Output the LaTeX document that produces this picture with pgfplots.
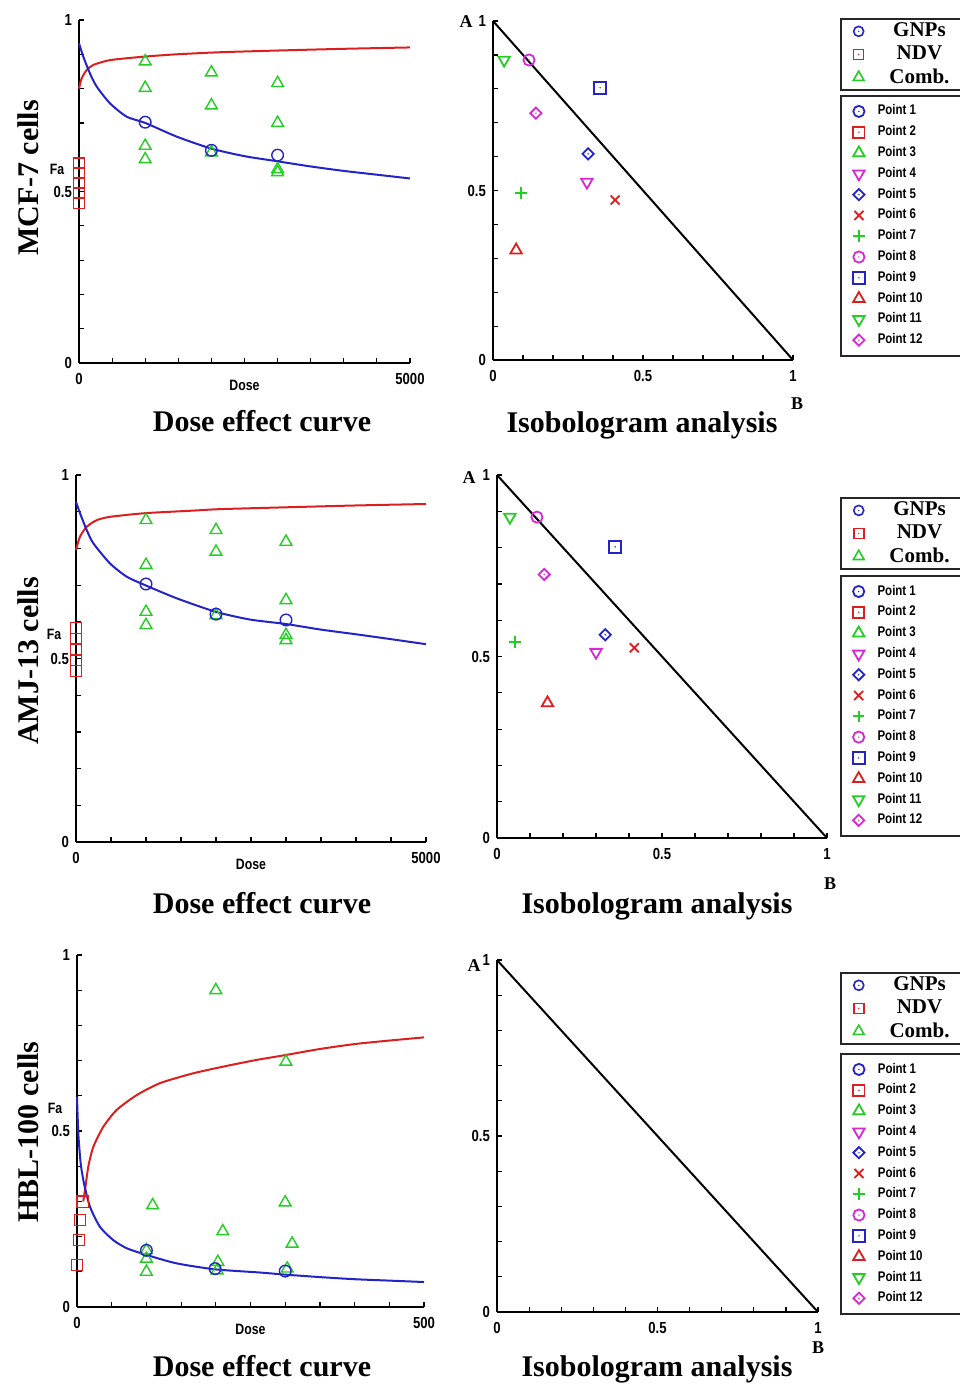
\documentclass[border=0pt]{standalone}
\usepackage{pgfplots}
\pgfplotsset{compat=1.18}
\usepackage{fontspec}
\setmainfont{Liberation Serif}
\newfontfamily\narrow[FakeStretch=0.82]{Liberation Sans}

\definecolor{bluec}{RGB}{35,35,200}
\definecolor{redc}{RGB}{220,30,30}
\definecolor{greenc}{RGB}{35,205,35}
\definecolor{magc}{RGB}{215,40,215}

% marks with a centre dot
\pgfdeclareplotmark{odot}{%
  \pgfpathcircle{\pgfpointorigin}{\pgfplotmarksize}\pgfusepathqstroke
  \pgfpathcircle{\pgfpointorigin}{0.4pt}\pgfusepathqfill}
\pgfdeclareplotmark{sdot}{%
  \pgfpathrectangle{\pgfpoint{-\pgfplotmarksize}{-\pgfplotmarksize}}{\pgfpoint{2\pgfplotmarksize}{2\pgfplotmarksize}}\pgfusepathqstroke
  \pgfpathcircle{\pgfpointorigin}{0.4pt}\pgfusepathqfill}
\pgfdeclareplotmark{ddot}{%
  \pgfpathmoveto{\pgfpoint{0pt}{\pgfplotmarksize}}\pgfpathlineto{\pgfpoint{\pgfplotmarksize}{0pt}}%
  \pgfpathlineto{\pgfpoint{0pt}{-\pgfplotmarksize}}\pgfpathlineto{\pgfpoint{-\pgfplotmarksize}{0pt}}%
  \pgfpathclose\pgfusepathqstroke
  \pgfpathcircle{\pgfpointorigin}{0.4pt}\pgfusepathqfill}

\pgfplotsset{
  base/.style={scale only axis, anchor=south west, clip=false,
    axis lines*=left, axis line style={line width=0.8pt,-},
    tick align=inside, major tick length=2.5pt, minor tick length=2.5pt,
    tick style={line width=0.6pt,black},
    ymin=0, ymax=1, ytick={0,0.5,1}, yticklabels={0,0.5,1}, minor y tick num=4,
    xmin=0, scaled x ticks=false,
    tick label style={font=\narrow\bfseries\fontsize{8}{9}\selectfont},
    xticklabel style={yshift=-1.5pt},
    /pgf/number format/assume math mode=true},
  doseax/.style={base,
    xlabel={Dose}, ylabel={Fa},
    label style={font=\narrow\bfseries\fontsize{7.5}{8}\selectfont},
    xlabel style={at={(axis description cs:0.5,0)}, anchor=center, yshift=-11pt},
    ylabel style={rotate=-90, at={(axis description cs:0,0.565)}, anchor=center, xshift=-11pt},
    legend style={draw=black!85, line width=0.9pt, inner xsep=0pt, inner ysep=0.5pt,
      row sep=0pt, anchor=north west,
      font=\bfseries\fontsize{10.5}{11}\selectfont,
      nodes={inner sep=0.5pt, minimum height=11.5pt}, cells={anchor=west}}},
  isoax/.style={base, xmax=1, xtick={0,0.5,1}, xticklabels={0,0.5,1}, minor x tick num=4,
    legend style={draw=black!85, line width=0.9pt, inner xsep=0pt, inner ysep=2.6pt,
      row sep=0pt, anchor=north west,
      font=\narrow\bfseries\fontsize{7}{8}\selectfont,
      nodes={inner sep=0.5pt, minimum height=10.4pt}, cells={anchor=west}}},
  limg/.style={legend image code/.code={\path (0pt,0pt) (17pt,0pt);
      \draw[##1] plot coordinates {(8.5pt,0pt)};}},
  curve/.style={forget plot, smooth, tension=0.4, line width=1pt},
  dmark/.style={forget plot, only marks, line width=0.7pt},
  lgnp/.style={only marks, mark=odot, bluec, mark size=2.5pt, line width=0.8pt, limg},
  lndv/.style={only marks, mark=sdot, redc, mark size=2.5pt, line width=0.8pt, limg},
  lcomb/.style={only marks, mark=triangle, greenc, mark size=3.1pt, line width=0.8pt, limg},
  p1/.style={only marks, mark=odot, bluec, mark size=2.8pt, line width=0.9pt, limg},
  p2/.style={only marks, mark=sdot, redc, mark size=2.8pt, line width=0.9pt, limg},
  p3/.style={only marks, mark=triangle, greenc, mark size=3.3pt, line width=0.9pt, limg},
  p4/.style={only marks, mark=triangle, mark options={rotate=180}, magc, mark size=3.3pt, line width=0.9pt, limg},
  p5/.style={only marks, mark=ddot, bluec, mark size=2.8pt, line width=0.9pt, limg},
  p6/.style={only marks, mark=x, redc, mark size=3.2pt, line width=0.9pt, limg},
  p7/.style={only marks, mark=+, greenc, mark size=2.9pt, line width=0.9pt, limg},
  p8/.style={only marks, mark=odot, magc, mark size=2.8pt, line width=0.9pt, limg},
  p9/.style={only marks, mark=sdot, bluec, mark size=3pt, line width=0.9pt, limg},
  p10/.style={only marks, mark=triangle, redc, mark size=3.3pt, line width=0.9pt, limg},
  p11/.style={only marks, mark=triangle, mark options={rotate=180}, greenc, mark size=3.3pt, line width=0.9pt, limg},
  p12/.style={only marks, mark=ddot, magc, mark size=2.8pt, line width=0.9pt, limg},
  pointlegend/.style={
    legend entries={\makebox[44pt][l]{Point 1},\makebox[44pt][l]{Point 2},\makebox[44pt][l]{Point 3},
      \makebox[44pt][l]{Point 4},\makebox[44pt][l]{Point 5},\makebox[44pt][l]{Point 6},
      \makebox[44pt][l]{Point 7},\makebox[44pt][l]{Point 8},\makebox[44pt][l]{Point 9},
      \makebox[44pt][l]{Point 10},\makebox[44pt][l]{Point 11},\makebox[44pt][l]{Point 12}}},
  druglegend/.style={
    legend entries={\makebox[42pt]{GNPs},\makebox[42pt]{NDV},\makebox[42pt]{Comb.}}},
}
\newcommand{\pointimages}{%
  \addlegendimage{p1}\addlegendimage{p2}\addlegendimage{p3}\addlegendimage{p4}%
  \addlegendimage{p5}\addlegendimage{p6}\addlegendimage{p7}\addlegendimage{p8}%
  \addlegendimage{p9}\addlegendimage{p10}\addlegendimage{p11}\addlegendimage{p12}}
\newcommand{\drugimages}{\addlegendimage{lgnp}\addlegendimage{lndv}\addlegendimage{lcomb}}

\begin{document}
\begin{tikzpicture}
\useasboundingbox (0,0) rectangle (479.5pt,-693pt);

%% ---------- MCF-7 dose effect ----------
\begin{axis}[doseax, at={(39.5pt,-181.5pt)}, width=165.5pt, height=171.5pt,
  xmax=5000, xtick={0,5000}, xticklabels={0,5000}, minor x tick num=9,
  druglegend, legend style={at={(2.299,1.006)}}]
\drugimages
\addplot[curve, redc] coordinates {(0,0.800) (40,0.830) (116,0.854) (216,0.869) (468,0.883)
  (971,0.893) (1476,0.900) (2130,0.906) (3000,0.911) (4000,0.916) (5000,0.920)};
\addplot[curve, bluec] coordinates {(0,0.932) (65,0.893) (166,0.844) (267,0.806) (468,0.757)
  (720,0.718) (1000,0.700) (1476,0.660) (2000,0.625) (2500,0.603) (3000,0.588)
  (3500,0.573) (4000,0.560) (4500,0.549) (5000,0.538)};
\addplot[dmark, redc, mark=square, mark size=2.7pt] coordinates {
  (0,0.582) (0,0.553) (0,0.524) (0,0.495) (0,0.466)};
\addplot[dmark, greenc, mark=triangle, mark size=3.4pt] coordinates {
  (1000,0.879) (1000,0.802) (1000,0.633) (1000,0.594)
  (2000,0.847) (2000,0.751) (2000,0.614)
  (3000,0.816) (3000,0.700) (3000,0.565) (3000,0.556)};
\addplot[dmark, bluec, mark=o, mark size=2.9pt] coordinates {
  (1000,0.702) (2000,0.620) (3000,0.606)};
\end{axis}

%% ---------- MCF-7 isobologram ----------
\begin{axis}[isoax, at={(246.5pt,-180pt)}, width=150pt, height=169.5pt,
  pointlegend, legend style={at={(1.157,0.782)}}]
\pointimages
\addplot[forget plot, black, line width=1pt] coordinates {(0,1) (1,0)};
\addplot[forget plot, p4] coordinates {(0.313,0.525)};
\addplot[forget plot, p5] coordinates {(0.317,0.608)};
\addplot[forget plot, p6] coordinates {(0.407,0.472)};
\addplot[forget plot, p7] coordinates {(0.093,0.492)};
\addplot[forget plot, p8] coordinates {(0.120,0.885)};
\addplot[forget plot, p9] coordinates {(0.357,0.803)};
\addplot[forget plot, p10] coordinates {(0.077,0.324)};
\addplot[forget plot, p11] coordinates {(0.037,0.885)};
\addplot[forget plot, p12] coordinates {(0.143,0.728)};
\end{axis}

%% ---------- AMJ-13 dose effect ----------
\begin{axis}[doseax, at={(38pt,-421pt)}, width=175pt, height=183.5pt,
  xmax=5000, xtick={0,5000}, xticklabels={0,5000}, minor x tick num=9,
  druglegend, legend style={at={(2.183,0.940)}}]
\drugimages
\addplot[curve, redc] coordinates {(0,0.796) (57,0.832) (153,0.859) (296,0.877) (486,0.886)
  (986,0.896) (1676,0.903) (2057,0.907) (3000,0.912) (4000,0.917) (5000,0.921)};
\addplot[curve, bluec] coordinates {(0,0.927) (57,0.896) (153,0.850) (247,0.814) (486,0.759)
  (724,0.723) (986,0.700) (1439,0.664) (2000,0.627) (2490,0.606) (3000,0.594)
  (3490,0.579) (4000,0.566) (4490,0.553) (5000,0.539)};
\addplot[dmark, redc, mark=square, mark size=2.7pt] coordinates {
  (0,0.583) (0,0.554) (0,0.525) (0,0.495) (0,0.466)};
\addplot[dmark, greenc, mark=triangle, mark size=3.4pt] coordinates {
  (1000,0.877) (1000,0.755) (1000,0.627) (1000,0.591)
  (2000,0.850) (2000,0.791) (2000,0.618)
  (3000,0.818) (3000,0.659) (3000,0.564) (3000,0.550)};
\addplot[dmark, bluec, mark=o, mark size=2.9pt] coordinates {
  (1000,0.703) (2000,0.621) (3000,0.605)};
\end{axis}

%% ---------- AMJ-13 isobologram ----------
\begin{axis}[isoax, at={(248.5pt,-419pt)}, width=165pt, height=181.5pt,
  pointlegend, legend style={at={(1.039,0.7245)}}]
\pointimages
\addplot[forget plot, black, line width=1pt] coordinates {(0,1) (1,0)};
\addplot[forget plot, p4] coordinates {(0.300,0.512)};
\addplot[forget plot, p5] coordinates {(0.328,0.560)};
\addplot[forget plot, p6] coordinates {(0.416,0.524)};
\addplot[forget plot, p7] coordinates {(0.055,0.540)};
\addplot[forget plot, p8] coordinates {(0.121,0.884)};
\addplot[forget plot, p9] coordinates {(0.358,0.802)};
\addplot[forget plot, p10] coordinates {(0.153,0.372)};
\addplot[forget plot, p11] coordinates {(0.039,0.884)};
\addplot[forget plot, p12] coordinates {(0.143,0.726)};
\end{axis}

%% ---------- HBL-100 dose effect ----------
\begin{axis}[doseax, at={(38.5pt,-653.5pt)}, width=173.5pt, height=176pt,
  xmax=500, xtick={0,500}, xticklabels={0,500}, minor x tick num=9,
  druglegend, legend style={at={(2.199,0.952)}}]
\drugimages
\addplot[curve, redc] coordinates {(9,0.300) (11.5,0.332) (16.3,0.399) (23.5,0.455) (37.9,0.512)
  (57.2,0.560) (86,0.602) (119.6,0.636) (167.6,0.664) (215.7,0.685) (259,0.702)
  (301,0.716) (350,0.733) (400,0.747) (450,0.757) (500,0.766)};
\addplot[curve, bluec] coordinates {(0,0.597) (1.9,0.493) (5.3,0.408) (10.1,0.351) (18.7,0.285)
  (33,0.228) (52.3,0.190) (71.6,0.167) (100,0.148) (143.6,0.124) (199,0.107)
  (263.7,0.098) (300,0.092) (350,0.085) (400,0.079) (450,0.075) (500,0.071)};
\addplot[dmark, redc, mark=square, mark size=2.8pt] coordinates {
  (0,0.119) (2.9,0.190) (4.3,0.247) (8.2,0.299)};
\addplot[dmark, greenc, mark=triangle, mark size=3.4pt] coordinates {
  (100,0.161) (100,0.137) (100,0.100) (109,0.289)
  (200,0.900) (203,0.128) (202,0.104) (210,0.215)
  (301,0.697) (300,0.297) (310,0.180) (303,0.109)};
\addplot[dmark, bluec, mark=o, mark size=2.9pt] coordinates {
  (100,0.161) (199,0.109) (300,0.102)};
\end{axis}

%% ---------- HBL-100 isobologram ----------
\begin{axis}[isoax, at={(248.5pt,-656pt)}, width=160.5pt, height=176pt,
  pointlegend, legend style={at={(1.069,0.736)}}]
\pointimages
\addplot[forget plot, black, line width=1pt] coordinates {(0,1) (1,0)};
\end{axis}

%% titles
\begin{scope}[every node/.style={font=\bfseries\fontsize{15}{16}\selectfont, inner sep=0pt}]
\node[anchor=base] at (131pt,-215.5pt) {Dose effect curve};
\node[anchor=base] at (321pt,-216pt) {Isobologram analysis};
\node[anchor=base] at (131pt,-456.5pt) {Dose effect curve};
\node[anchor=base] at (328.5pt,-456.5pt) {Isobologram analysis};
\node[anchor=base] at (131pt,-688pt) {Dose effect curve};
\node[anchor=base] at (328.5pt,-688pt) {Isobologram analysis};
\node[rotate=90] at (14pt,-89pt) {MCF-7 cells};
\node[rotate=90] at (14pt,-330.5pt) {AMJ-13 cells};
\node[rotate=90] at (14pt,-566pt) {HBL-100 cells};
\end{scope}
\begin{scope}[every node/.style={font=\bfseries\fontsize{9}{10}\selectfont, inner sep=0pt}]
\node at (233pt,-11pt) {A};
\node at (398.5pt,-202pt) {B};
\node at (234.5pt,-239pt) {A};
\node at (415pt,-442pt) {B};
\node at (237pt,-483pt) {A};
\node at (409pt,-674pt) {B};
\end{scope}
\end{tikzpicture}
\end{document}
